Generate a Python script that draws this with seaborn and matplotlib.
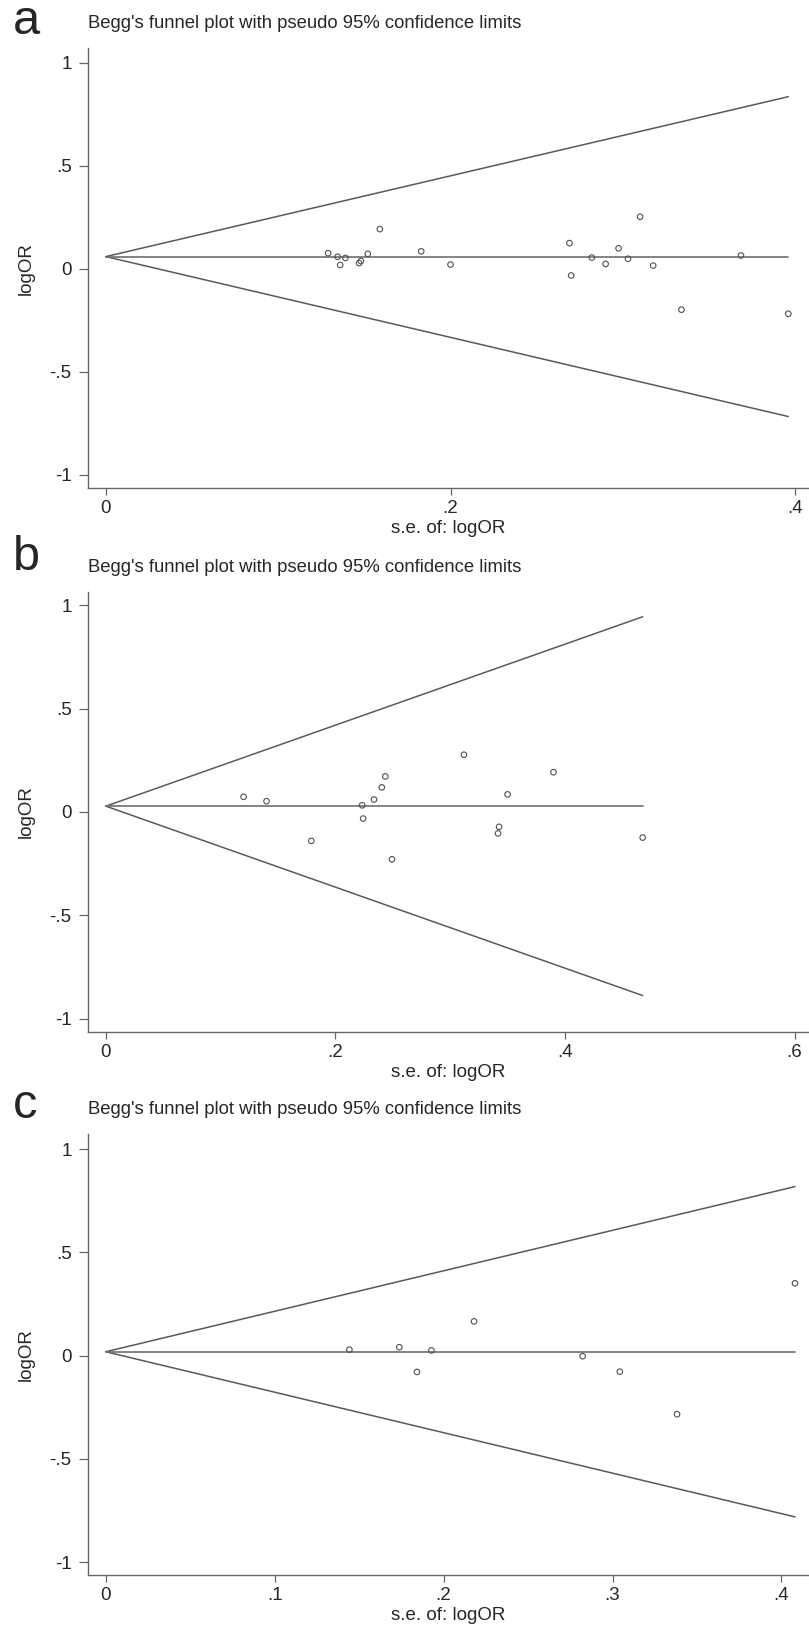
import numpy as np
import pandas as pd
import matplotlib
matplotlib.use("Agg")
import matplotlib.pyplot as plt
import seaborn as sns

# ---- data ----
se_a = [0.129, 0.1345, 0.136, 0.139, 0.147, 0.148, 0.152, 0.159, 0.183, 0.200,
        0.269, 0.270, 0.282, 0.290, 0.2975, 0.303, 0.310, 0.3176, 0.334, 0.3685, 0.396]
lor_a = [0.075, 0.058, 0.018, 0.052, 0.027, 0.037, 0.072, 0.192, 0.084, 0.020,
         0.124, -0.033, 0.054, 0.023, 0.099, 0.048, 0.252, 0.015, -0.199, 0.064, -0.219]
pooled_a = 0.0585

se_b = [0.120, 0.140, 0.179, 0.2233, 0.2242, 0.2336, 0.2404, 0.2435, 0.2493,
        0.312, 0.3426, 0.3417, 0.350, 0.390, 0.4677]
lor_b = [0.0735, 0.052, -0.140, 0.032, -0.032, 0.060, 0.119, 0.172, -0.229,
         0.277, -0.072, -0.104, 0.085, 0.192, -0.124]
pooled_b = 0.028

se_c = [0.1442, 0.1738, 0.1842, 0.1928, 0.218, 0.2823, 0.3043, 0.3382, 0.408]
lor_c = [0.0287, 0.0405, -0.079, 0.025, 0.1655, -0.0034, -0.078, -0.284, 0.350]
pooled_c = 0.0186

panel_letters = ["a", "b", "c"]
title = "Begg's funnel plot with pseudo 95% confidence limits"
y_ticks = [1, 0.5, 0, -0.5, -1]
y_ticklabels = ["1", ".5", "0", "-.5", "-1"]
x_ticks = {"a": [0, 0.2, 0.4], "b": [0, 0.2, 0.4, 0.6], "c": [0, 0.1, 0.2, 0.3, 0.4]}
x_ticklabels = {"a": ["0", ".2", ".4"], "b": ["0", ".2", ".4", ".6"],
                "c": ["0", ".1", ".2", ".3", ".4"]}

sns.set_theme(style="white")
plt.rcParams['font.family'] = ['Liberation Sans', 'DejaVu Sans']

W, H = 809, 1627
fig = plt.figure(figsize=(W / 100, H / 100), dpi=100)

# pixel boxes: left, top, right, bottom ; x/y limits
boxes = {
    "a": (87.7, 48.2, 809, 488.3, (-0.0105, 0.408), (-1.066, 1.07)),
    "b": (87.7, 591.7, 809, 1032.4, (-0.0158, 0.6126), (-1.067, 1.066)),
    "c": (87.7, 1134, 809, 1575.3, (-0.0107, 0.4163), (-1.064, 1.073)),
}
title_y = {"a": 24, "b": 567, "c": 1110}
letter_y = {"a": 22, "b": 558, "c": 1106}
data = {"a": (se_a, lor_a, pooled_a), "b": (se_b, lor_b, pooled_b), "c": (se_c, lor_c, pooled_c)}

for key in panel_letters:
    l, t, r, b, xl, yl = boxes[key]
    ax = fig.add_axes([l / W, 1 - b / H, (r - l) / W, (b - t) / H])
    se, lor, pooled = data[key]
    df = pd.DataFrame({"se": se, "logOR": lor})
    se_max = max(se)

    # pseudo 95% limits and pooled line
    ax.plot([0, se_max], [pooled, pooled + 1.96 * se_max], color="#5a5a5a", lw=1.1)
    ax.plot([0, se_max], [pooled, pooled - 1.96 * se_max], color="#5a5a5a", lw=1.1)
    ax.plot([0, se_max], [pooled, pooled], color="#6e6e6e", lw=1.2)

    sns.scatterplot(data=df, x="se", y="logOR", ax=ax, marker="o", s=16,
                    facecolor="none", edgecolor="#505050", linewidth=0.8, zorder=3)

    ax.set_xlim(*xl)
    ax.set_ylim(*yl)
    ax.set_yticks(y_ticks)
    ax.set_yticklabels(y_ticklabels)
    ax.set_xticks(x_ticks[key])
    ax.set_xticklabels(x_ticklabels[key])
    ax.tick_params(axis="y", direction="out", length=6.5, width=0.9,
                   color="#666666", labelsize=13.5, left=True, pad=5)
    ax.tick_params(axis="x", direction="out", length=5, width=0.9,
                   color="#666666", labelsize=13.5, bottom=True, pad=3.5)
    ax.set_xlabel("s.e. of: logOR", fontsize=13.5, labelpad=2)
    ax.set_ylabel("logOR", fontsize=13.5, labelpad=11)
    sns.despine(ax=ax)
    for sp in ["left", "bottom"]:
        ax.spines[sp].set_color("#666666")
        ax.spines[sp].set_linewidth(1.0)

    fig.text(88 / W, 1 - title_y[key] / H, title, fontsize=13.3, va="center", ha="left")
    fig.text(13 / W, 1 - letter_y[key] / H, key, fontsize=35, va="center", ha="left")

fig.savefig("out.png", dpi=100)
